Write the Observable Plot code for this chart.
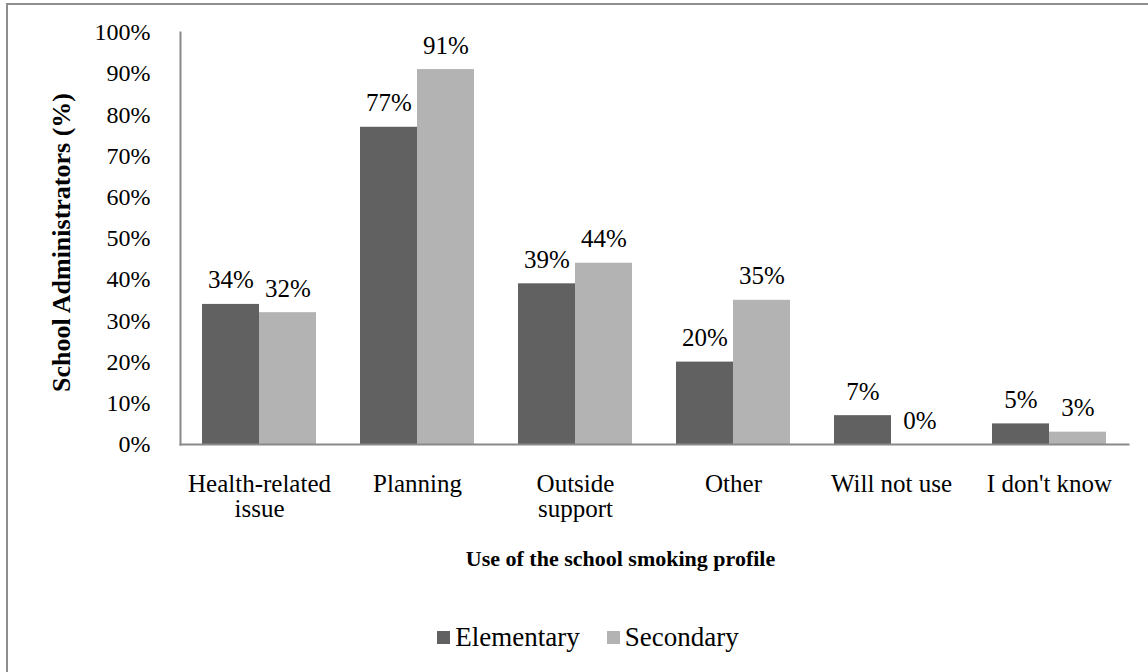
<!DOCTYPE html>
<html>
<head>
<meta charset="utf-8">
<script src="https://cdn.jsdelivr.net/npm/d3@7"></script>
<script src="https://cdn.jsdelivr.net/npm/@observablehq/plot@0.6"></script>
<style>
  html, body { margin: 0; padding: 0; background: #fff; }
  #page { position: relative; width: 1148px; height: 672px; overflow: hidden; font-family: "Liberation Serif", "Times New Roman", serif; }
  #box { position: absolute; left: 6px; top: 3px; width: 1300px; height: 800px; border-left: 2px solid #8e8e8e; border-top: 2px solid #8e8e8e; }
  #chart { position: absolute; left: 0; top: 0; }
  #legend { position: absolute; left: 0; top: 622px; width: 1148px; display: flex; justify-content: center; padding-left: 28px; box-sizing: border-box; }
  .lg-swatches { font-family: "Liberation Serif", "Times New Roman", serif !important; font-size: 27px !important; color: #000 !important; display: flex; align-items: center; margin: 0 !important; min-height: 0 !important; }
  .lg-swatch { margin-right: 27px !important; display: inline-flex; align-items: center; }
  .lg-swatch:last-child { margin-right: 0 !important; }
  .lg-swatch > svg { margin-right: 5px !important; }
</style>
</head>
<body>
<div id="page">
  <div id="box"></div>
  <div id="chart"></div>
  <div id="legend"></div>
</div>
<script>
// Uses of the school smoking profile, by school level
const categories = ["Health-related\nissue", "Planning", "Outside\nsupport", "Other", "Will not use", "I don't know"];
const seriesNames = ["Elementary", "Secondary"];
const elementary = [34, 77, 39, 20, 7, 5];
const secondary = [32, 91, 44, 35, 0, 3];
const yTicks = [0, 10, 20, 30, 40, 50, 60, 70, 80, 90, 100];
const seriesColors = ["#616161", "#b3b3b3"];

const rows = categories.flatMap((c, i) => [
  {category: c, series: seriesNames[0], value: elementary[i]},
  {category: c, series: seriesNames[1], value: secondary[i]}
]);

const axisGray = "#898989";

// Facets tile the full width with no gaps; the gap between groups comes
// from the outer padding of the series scale inside each facet.
const plot = Plot.plot({
  width: 1148,
  height: 600,
  marginTop: 32,
  marginBottom: 156,
  marginLeft: 177,
  marginRight: 18,
  style: {fontFamily: "'Liberation Serif', 'Times New Roman', serif", fontSize: "24px", color: "#000", background: "transparent"},
  fx: {domain: categories, paddingInner: 0, paddingOuter: 0, label: null},
  x: {domain: seriesNames, paddingInner: 0, paddingOuter: 0.381, axis: null},
  y: {domain: [0, 100], label: null},
  color: {domain: seriesNames, range: seriesColors},
  marks: [
    Plot.barY(rows, {fx: "category", x: "series", y: "value", fill: "series"}),
    Plot.text(rows, {fx: "category", x: "series", y: "value", text: d => d.value + "%", dy: -24, lineAnchor: "middle", fontSize: 25, fill: "#000"}),
    Plot.axisY({ticks: yTicks, tickFormat: d => d + "%", tickSize: 0, tickPadding: 30, label: null}),
    Plot.axisFx({anchor: "bottom", tickSize: 0, tickPadding: 30, lineHeight: 1, fontSize: 25, label: null}),
    Plot.frame({anchor: "left", facet: "super", stroke: axisGray, strokeWidth: 2}),
    Plot.frame({anchor: "bottom", facet: "super", stroke: axisGray, strokeWidth: 2}),
    Plot.text(["School Administrators (%)"], {facet: "super", frameAnchor: "left", textAnchor: "middle", dx: -119, dy: 4, rotate: -90, fontSize: 26, fontWeight: "bold", fill: "#000"}),
    Plot.text(["Use of the school smoking profile"], {facet: "super", frameAnchor: "bottom", dx: -34, dy: 121, fontSize: 22, fontWeight: "bold", fill: "#000"})
  ]
});
document.getElementById("chart").append(plot);

const legend = plot.legend("color", {swatchSize: 13, className: "lg"});
document.getElementById("legend").append(legend);
</script>
</body>
</html>
